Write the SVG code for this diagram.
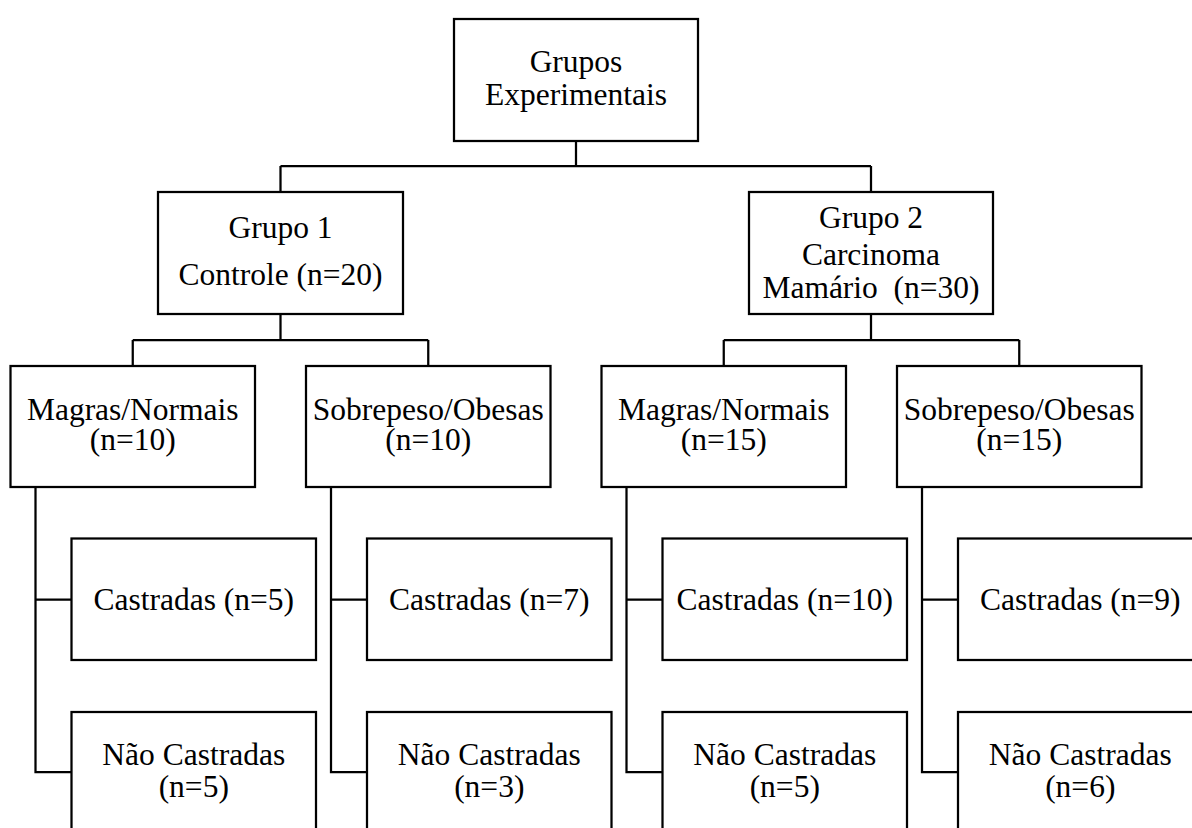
<svg xmlns="http://www.w3.org/2000/svg" width="1192" height="828" viewBox="0 0 1192 828">
<style>
.box{fill:#fff;stroke:#000;stroke-width:2.25}
.ln{fill:none;stroke:#000;stroke-width:2.25}
text{font-family:"Liberation Serif","Times New Roman",serif;font-size:31.5px;fill:#000;text-anchor:middle;white-space:pre}
</style>
<rect width="1192" height="828" fill="#fff"/>
<g id="connectors" class="ln">
<path d="M576 141V166M280.5 166H871M280.5 166V192M871 166V192"/>
<path d="M280.5 314V340M132.75 340H428.25M132.75 340V366M428.25 340V366"/>
<path d="M871 314V340M723.75 340H1019.25M723.75 340V366M1019.25 340V366"/>
<path d="M35.5 487V772H71.5M35.5 599.5H71.5"/>
<path d="M331 487V772H367M331 599.5H367"/>
<path d="M626.5 487V772H662.5M626.5 599.5H662.5"/>
<path d="M922 487V772H958M922 599.5H958"/>
</g>
<g id="root"><rect class="box" x="454" y="19" width="244" height="122"/><text x="576" y="72">Grupos</text><text x="576" y="105">Experimentais</text></g>
<g id="grupo1"><rect class="box" x="158" y="192" width="245" height="122"/><text x="280.5" y="237.5">Grupo 1</text><text x="280.5" y="284.5">Controle (n=20)</text></g>
<g id="grupo2"><rect class="box" x="749" y="192" width="244" height="122"/><text x="871" y="228">Grupo 2</text><text x="871" y="264.5">Carcinoma</text><text x="871" y="298">Mamário  (n=30)</text></g>
<g id="g1-magras"><rect class="box" x="10.5" y="366" width="244.5" height="121"/><text x="132.75" y="420">Magras/Normais</text><text x="132.75" y="450">(n=10)</text></g>
<g id="g1-sobrepeso"><rect class="box" x="306" y="366" width="244.5" height="121"/><text x="428.25" y="420">Sobrepeso/Obesas</text><text x="428.25" y="450">(n=10)</text></g>
<g id="g2-magras"><rect class="box" x="601.5" y="366" width="244.5" height="121"/><text x="723.75" y="420">Magras/Normais</text><text x="723.75" y="450">(n=15)</text></g>
<g id="g2-sobrepeso"><rect class="box" x="897" y="366" width="244.5" height="121"/><text x="1019.25" y="420">Sobrepeso/Obesas</text><text x="1019.25" y="450">(n=15)</text></g>
<g id="g1-magras-castradas"><rect class="box" x="71.5" y="538.5" width="244.5" height="121.5"/><text x="193.75" y="609.5">Castradas (n=5)</text></g>
<g id="g1-magras-naocastradas"><rect class="box" x="71.5" y="712" width="244.5" height="140"/><text x="193.75" y="765">Não Castradas</text><text x="193.75" y="797">(n=5)</text></g>
<g id="g1-sobrepeso-castradas"><rect class="box" x="367" y="538.5" width="244.5" height="121.5"/><text x="489.25" y="609.5">Castradas (n=7)</text></g>
<g id="g1-sobrepeso-naocastradas"><rect class="box" x="367" y="712" width="244.5" height="140"/><text x="489.25" y="765">Não Castradas</text><text x="489.25" y="797">(n=3)</text></g>
<g id="g2-magras-castradas"><rect class="box" x="662.5" y="538.5" width="244.5" height="121.5"/><text x="784.75" y="609.5">Castradas (n=10)</text></g>
<g id="g2-magras-naocastradas"><rect class="box" x="662.5" y="712" width="244.5" height="140"/><text x="784.75" y="765">Não Castradas</text><text x="784.75" y="797">(n=5)</text></g>
<g id="g2-sobrepeso-castradas"><rect class="box" x="958" y="538.5" width="244.5" height="121.5"/><text x="1080.25" y="609.5">Castradas (n=9)</text></g>
<g id="g2-sobrepeso-naocastradas"><rect class="box" x="958" y="712" width="244.5" height="140"/><text x="1080.25" y="765">Não Castradas</text><text x="1080.25" y="797">(n=6)</text></g>
</svg>
